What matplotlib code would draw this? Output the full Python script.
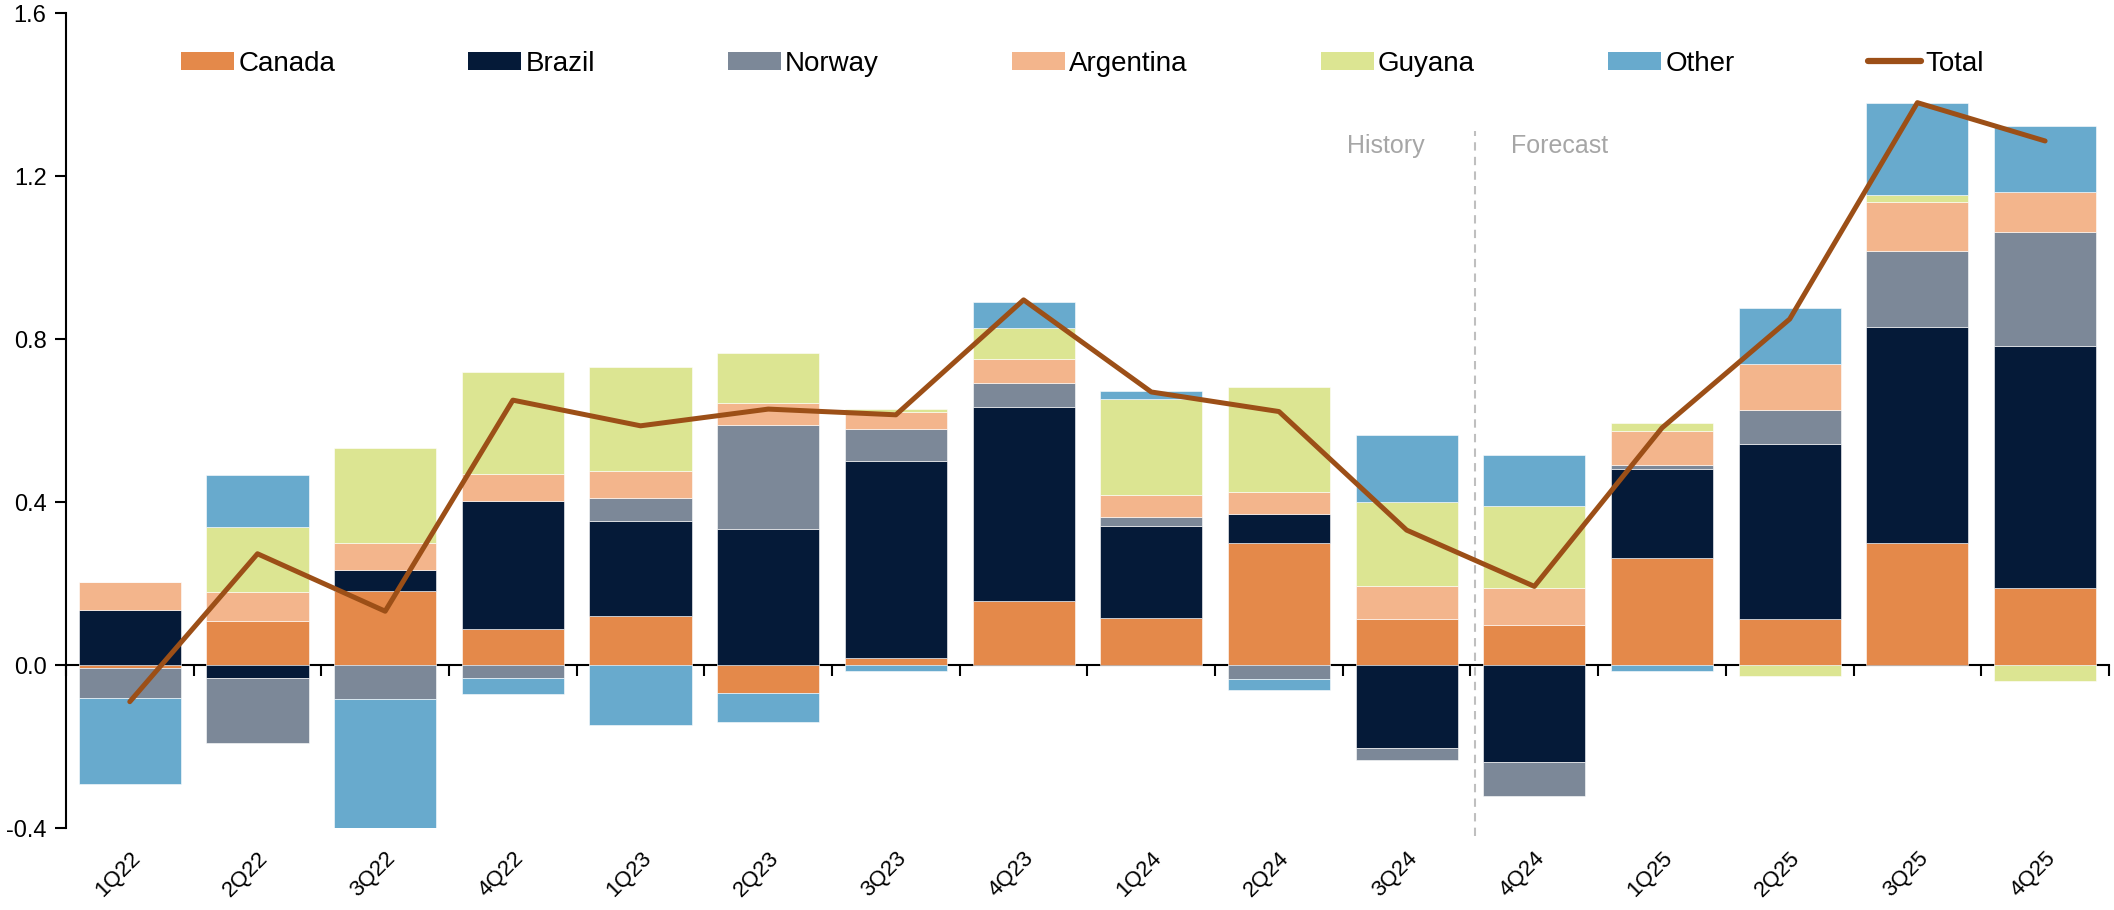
import matplotlib
matplotlib.use("Agg")
import matplotlib.pyplot as plt
import numpy as np
from matplotlib.patches import Patch
from matplotlib.lines import Line2D

plt.rcParams['font.family'] = ['Liberation Sans Narrow', 'Liberation Sans', 'DejaVu Sans']

quarters = ["1Q22", "2Q22", "3Q22", "4Q22", "1Q23", "2Q23", "3Q23", "4Q23",
            "1Q24", "2Q24", "3Q24", "4Q24", "1Q25", "2Q25", "3Q25", "4Q25"]

canada = [-0.008, 0.108, 0.182, 0.088, 0.120, -0.068, 0.016, 0.156,
          0.116, 0.300, 0.114, 0.099, 0.262, 0.112, 0.300, 0.190]
brazil = [0.135, -0.033, 0.050, 0.315, 0.234, 0.333, 0.484, 0.478,
          0.224, 0.071, -0.203, -0.238, 0.218, 0.430, 0.530, 0.594]
norway = [-0.074, -0.159, -0.084, -0.033, 0.057, 0.257, 0.078, 0.058,
          0.022, -0.035, -0.029, -0.083, 0.012, 0.085, 0.186, 0.279]
argentina = [0.069, 0.070, 0.068, 0.066, 0.065, 0.053, 0.044, 0.059,
             0.054, 0.053, 0.081, 0.089, 0.083, 0.112, 0.120, 0.097]
guyana = [0.000, 0.160, 0.233, 0.250, 0.256, 0.122, 0.006, 0.076,
          0.237, 0.259, 0.204, 0.203, 0.020, -0.028, 0.017, -0.040]
other = [-0.211, 0.128, -0.315, -0.038, -0.146, -0.071, -0.015, 0.065,
         0.020, -0.026, 0.165, 0.125, -0.014, 0.136, 0.226, 0.163]
total = [-0.090, 0.273, 0.132, 0.650, 0.587, 0.628, 0.614, 0.896,
         0.670, 0.622, 0.331, 0.193, 0.582, 0.849, 1.380, 1.286]

series_names = ["Canada", "Brazil", "Norway", "Argentina", "Guyana", "Other"]
series_vals = [canada, brazil, norway, argentina, guyana, other]
colors = ["#E4894A", "#051A38", "#7C8898", "#F3B58C", "#DCE592", "#68AACD"]
total_color = "#9C4F17"

fig = plt.figure(figsize=(21.14, 9.10), dpi=100)
ax = fig.add_axes([0.0312, 0.0901, 0.9664, 0.8956])

x = np.arange(len(quarters))
pos_base = np.zeros(len(quarters))
neg_base = np.zeros(len(quarters))
for name, vals, c in zip(series_names, series_vals, colors):
    v = np.array(vals)
    base = np.where(v >= 0, pos_base, neg_base)
    ax.bar(x, v, width=0.8, bottom=base, color=c, edgecolor='white',
           linewidth=0.4, zorder=2)
    pos_base = pos_base + np.where(v >= 0, v, 0)
    neg_base = neg_base + np.where(v < 0, v, 0)

ax.plot(x, total, color=total_color, lw=3.6, solid_capstyle='round', zorder=4)

ax.set_xlim(-0.5, len(quarters) - 0.5)
ax.set_ylim(-0.4, 1.6)
ax.set_yticks(np.arange(-0.4, 1.61, 0.4))
ax.set_yticklabels([f"{t:.1f}" for t in np.arange(-0.4, 1.61, 0.4)], fontsize=17)
ax.tick_params(axis='y', length=8, width=1.5, pad=6)

ax.set_xticks(x)
ax.set_xticklabels(quarters, rotation=45, ha='right', rotation_mode='anchor', fontsize=16)
ax.tick_params(axis='x', length=0, pad=14)

for s in ['top', 'right', 'bottom']:
    ax.spines[s].set_visible(False)
ax.spines['left'].set_linewidth(1.5)

# zero axis with boundary ticks
sec = ax.secondary_xaxis(0.2)
sec.set_xticks(np.arange(-0.5, len(quarters), 1.0))
sec.set_xticklabels([])
sec.tick_params(axis='x', length=8, width=1.5, direction='out')
sec.spines['bottom'].set_linewidth(1.5)

# history / forecast divider
ax.plot([10.535, 10.535], [-0.42, 1.31], color='#BFBFBF', lw=1.5,
        linestyle=(0, (4, 3)), zorder=1, clip_on=False)
ax.text(10.14, 1.273, "History", color='#A6A6A6', fontsize=18, ha='right', va='center')
ax.text(10.82, 1.273, "Forecast", color='#A6A6A6', fontsize=18, ha='left', va='center')

handles = [Patch(facecolor=c, edgecolor='none') for c in colors]
handles.append(Line2D([0], [0], color=total_color, lw=4.5, solid_capstyle='round'))
labels = series_names + ["Total"]
fig.legend(handles, labels, ncol=7, loc='center', bbox_to_anchor=(0.512, 0.930),
           frameon=False, fontsize=20, handlelength=1.9, handleheight=0.65,
           handletextpad=0.15, columnspacing=4.8)

fig.savefig("out.png", dpi=100)
